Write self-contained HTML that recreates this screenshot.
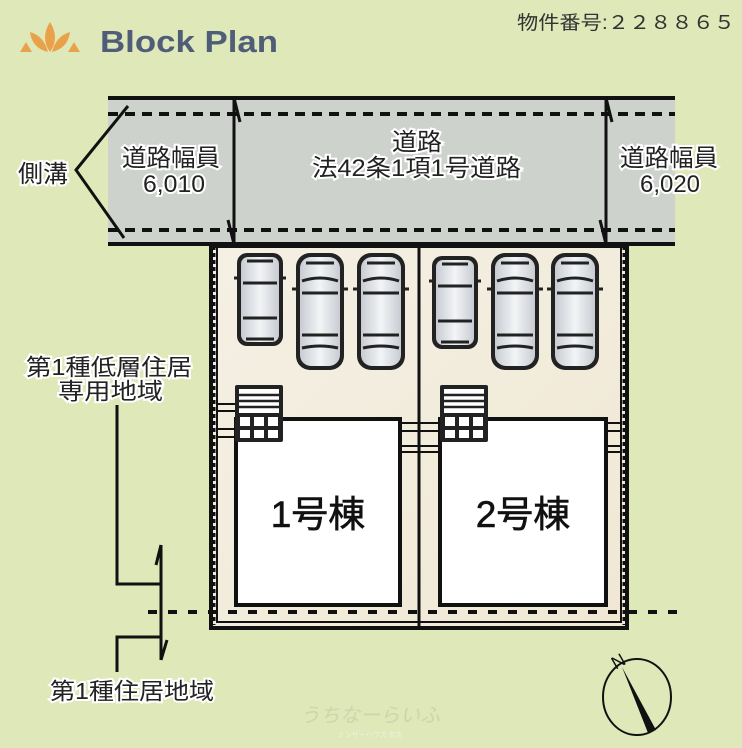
<!DOCTYPE html>
<html><head><meta charset="utf-8"><style>
html,body{margin:0;padding:0;background:#dfe8b8;}
svg{display:block}
text{font-family:"Liberation Sans","Noto Sans CJK JP",sans-serif;}
</style></head><body>
<svg width="742" height="748" viewBox="0 0 742 748" xmlns="http://www.w3.org/2000/svg">
<defs>
<linearGradient id="lot" x1="0" y1="0" x2="1" y2="1">
<stop offset="0" stop-color="#f4f0e4"/><stop offset="1" stop-color="#f0e8d4"/></linearGradient>
<linearGradient id="car" x1="0" y1="0" x2="1" y2="0">
<stop offset="0" stop-color="#c8ccd2"/><stop offset=".5" stop-color="#f2f4f6"/><stop offset="1" stop-color="#c8ccd2"/></linearGradient>
<g id="car1">
<rect x="0" y="0" width="46" height="93" rx="10" fill="#222"/>
<rect x="4" y="4" width="38" height="85" rx="7" fill="url(#car)"/>
<path d="M6 30 h34 M6 65 h34 M10 8 h26 M9 86 h28" stroke="#222" stroke-width="3" fill="none"/>
<path d="M-3 25 h6 M43 25 h6" stroke="#222" stroke-width="3"/>
</g>
<g id="car2">
<rect x="0" y="0" width="48" height="117" rx="14" fill="#222"/>
<rect x="4" y="4" width="40" height="109" rx="11" fill="url(#car)"/>
<path d="M6 28 q18 -6 36 0 M6 40 h36 M6 82 h36 M6 95 q18 -4 36 0 M10 10 h28" stroke="#222" stroke-width="3" fill="none"/>
<path d="M-4 36 h6 M46 36 h6" stroke="#222" stroke-width="3"/>
</g>
<g id="stair">
<rect x="0" y="0" width="48" height="57" rx="2" fill="#222"/>
<rect x="4" y="4" width="40" height="24" fill="#fff"/>
<path d="M4 10 h40 M4 16 h40 M4 22 h40" stroke="#222" stroke-width="2.5"/>
<rect x="5" y="32" width="10" height="9" fill="#fff"/><rect x="19" y="32" width="10" height="9" fill="#fff"/><rect x="33" y="32" width="10" height="9" fill="#fff"/>
<rect x="5" y="45" width="10" height="8" fill="#fff"/><rect x="19" y="45" width="10" height="8" fill="#fff"/><rect x="33" y="45" width="10" height="8" fill="#fff"/>
</g>
</defs>

<g fill="#e9a24a">
<path d="M50 52 q-10 -14 0 -30 q10 16 0 30z"/>
<path d="M48 52 q-16 -4 -18 -20 q14 4 18 20z"/>
<path d="M52 52 q16 -4 18 -20 q-14 4 -18 20z"/>
<path d="M20 52 l6 -10 l6 10z"/><path d="M68 52 l6 -10 l6 10z"/>
</g>
<text x="100" y="52" font-size="31" font-weight="bold" fill="#4f5d78" textLength="178" lengthAdjust="spacingAndGlyphs">Block Plan</text>
<text x="517" y="29" font-size="19" fill="#333" textLength="218" lengthAdjust="spacingAndGlyphs">物件番号:２２８８６５</text>

<rect x="108" y="97" width="567" height="148" fill="#cdd3cc"/>
<line x1="108" y1="98" x2="675" y2="98" stroke="#111" stroke-width="4"/>
<line x1="108" y1="244" x2="675" y2="244" stroke="#111" stroke-width="4"/>
<line x1="108" y1="114" x2="675" y2="114" stroke="#111" stroke-width="4" stroke-dasharray="10,7"/>
<line x1="108" y1="230" x2="675" y2="230" stroke="#111" stroke-width="4" stroke-dasharray="10,7"/>
<g stroke="#111" stroke-width="3" fill="none">
<line x1="234" y1="98" x2="234" y2="244"/>
<path d="M234 98 l6 24"/><path d="M234 244 l-6 -24"/>
<line x1="606" y1="98" x2="606" y2="244"/>
<path d="M606 98 l6 24"/><path d="M606 244 l-6 -24"/>
<path d="M128 106 L76 170 L124 238"/>
</g>
<g font-size="24" fill="#222" stroke="#fff" stroke-width="4" paint-order="stroke">
<text x="122" y="166" textLength="98" lengthAdjust="spacingAndGlyphs">道路幅員</text>
<text x="143" y="192" textLength="62" lengthAdjust="spacingAndGlyphs">6,010</text>
<text x="392" y="150" textLength="50" lengthAdjust="spacingAndGlyphs">道路</text>
<text x="312" y="176" textLength="209" lengthAdjust="spacingAndGlyphs">法42条1項1号道路</text>
<text x="620" y="166" textLength="98" lengthAdjust="spacingAndGlyphs">道路幅員</text>
<text x="640" y="192" textLength="60" lengthAdjust="spacingAndGlyphs">6,020</text>
<text x="18" y="182" textLength="50" lengthAdjust="spacingAndGlyphs">側溝</text>
</g>

<rect x="211" y="246" width="416" height="382" fill="url(#lot)" stroke="#111" stroke-width="4"/>
<path d="M217 246 V622 H621 V246" stroke="#111" stroke-width="2" fill="none"/>
<path d="M214 246 V625" stroke="#111" stroke-width="3" stroke-dasharray="4,3"/>
<path d="M624 246 V625" stroke="#111" stroke-width="3" stroke-dasharray="4,3"/>
<line x1="419" y1="246" x2="419" y2="628" stroke="#111" stroke-width="3"/>
<line x1="148" y1="612" x2="680" y2="612" stroke="#111" stroke-width="4" stroke-dasharray="9,11"/>
<g stroke="#111" stroke-width="2">
<path d="M217 404 h18 M217 411 h18 M217 429 h18 M217 437 h18"/>
<path d="M401 423 h39 M401 431 h39 M401 446 h39 M401 452 h39"/>
<path d="M607 423 h14 M607 431 h14 M607 446 h14 M607 452 h14"/>
</g>
<rect x="236" y="419" width="164" height="186" fill="#fff" stroke="#111" stroke-width="4"/>
<rect x="440" y="419" width="166" height="186" fill="#fff" stroke="#111" stroke-width="4"/>
<text x="318" y="527" font-size="37" text-anchor="middle" fill="#111" stroke="#111" stroke-width="0.6">1号棟</text>
<text x="523" y="527" font-size="37" text-anchor="middle" fill="#111" stroke="#111" stroke-width="0.6">2号棟</text>
<use href="#stair" x="235" y="385"/>
<use href="#stair" x="440" y="385"/>
<use href="#car1" x="237" y="253"/>
<use href="#car2" x="296" y="253"/>
<use href="#car2" x="357" y="253"/>
<use href="#car1" x="432" y="256"/>
<use href="#car2" x="491" y="253"/>
<use href="#car2" x="551" y="253"/>

<g stroke="#111" stroke-width="3" fill="none">
<path d="M117 405 V584 H161"/>
<path d="M161 545 V660"/><path d="M161 545 l-5 20"/><path d="M161 660 l6 -20"/>
<path d="M117 672 V637 H161"/>
</g>
<g font-size="23" fill="#222" stroke="#fff" stroke-width="4" paint-order="stroke">
<text x="26" y="375" textLength="166" lengthAdjust="spacingAndGlyphs">第1種低層住居</text>
<text x="58" y="399" textLength="105" lengthAdjust="spacingAndGlyphs">専用地域</text>
<text x="50" y="699" textLength="164" lengthAdjust="spacingAndGlyphs">第1種住居地域</text>
</g>
<text x="370" y="722" font-size="20" text-anchor="middle" fill="#cdd5ad" font-style="italic">うちなーらいふ</text>
<text x="370" y="737" font-size="7" text-anchor="middle" fill="#eef2da">ミンサーハウス 本店</text>
<ellipse cx="637" cy="697" rx="34" ry="38" fill="none" stroke="#111" stroke-width="2"/>
<path d="M622 667 L656 730 L648 733 Z" fill="#111"/>
<text x="611" y="668" font-size="18" fill="#111" transform="rotate(-30 617 660)">N</text>
</svg>
</body></html>
